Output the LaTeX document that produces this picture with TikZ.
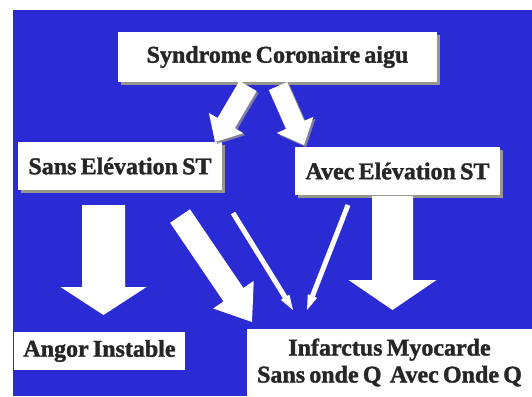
\documentclass[tikz,border=0pt]{standalone}
\usepackage{fontspec}
\setmainfont{Liberation Serif}
\newfontfamily\tnrfont{Liberation Serif}[BoldFeatures={FakeBold=1.5},WordSpace=0.7]
\usetikzlibrary{calc,shadows}
\definecolor{bgblue}{RGB}{43,43,214}
\definecolor{shadowgray}{RGB}{150,150,140}
\newcommand\blkarr[6][]{%
  \coordinate (ba-h) at ($(#3)!#6!(#2)$);
  \fill[white,#1] ($(#2)!#4!90:(#3)$) -- ($(ba-h)!#4!90:(#3)$) -- ($(ba-h)!#5!90:(#3)$) -- (#3)
    -- ($(ba-h)!#5!-90:(#3)$) -- ($(ba-h)!#4!-90:(#3)$) -- ($(#2)!#4!-90:(#3)$) -- cycle;
}
\tikzset{
  box/.style={fill=white, inner sep=0pt, font=\tnrfont\bfseries\fontsize{24}{27}\selectfont, text=black!85},
  shadowed/.style={drop shadow={shadow xshift=3pt, shadow yshift=-3pt, fill=shadowgray, opacity=1}},
  arrshadow/.style={drop shadow={shadow xshift=2pt, shadow yshift=-2pt, fill=shadowgray, opacity=.8}},
}
\begin{document}
\begin{tikzpicture}[x=1pt,y=-1pt]
\useasboundingbox (0,0) rectangle (532,396);
\fill[white] (0,0) rectangle (532,396);
\fill[bgblue] (13,10) rectangle (532,396);
% boxes
\node[box,shadowed,minimum width=319pt,minimum height=50pt] (sca) at (277.5,57) {Syndrome Coronaire aigu};
\node[box,shadowed,minimum width=204pt,minimum height=48pt] (sans) at (120,166) {Sans Elévation ST};
\node[box,shadowed,minimum width=205pt,minimum height=48pt] (avec) at (397.5,171) {Avec Elévation ST};
\node[box,minimum width=171pt,minimum height=38pt] (angor) at (99.5,351) {Angor Instable};
\node[box,minimum width=285pt,minimum height=67pt,align=center] (idm) at (389.5,362.5) {Infarctus Myocarde\\Sans onde Q\ \ Avec Onde Q};
% arrow end points
\coordinate (a1s) at (248,86);
\coordinate (a1e) at (215,142);
\coordinate (a2s) at (278,86);
\coordinate (a2e) at (304,145);
\coordinate (b1s) at (103.5,205);
\coordinate (b1e) at (103.5,315);
\coordinate (b2s) at (180,216);
\coordinate (b2e) at (252,322);
\coordinate (b3s) at (233,213);
\coordinate (b3e) at (293,310);
\coordinate (b4s) at (348,205);
\coordinate (b4e) at (307,310);
\coordinate (b5s) at (392.5,196);
\coordinate (b5e) at (392.5,310);
% arrows
\blkarr[arrshadow]{a1s}{a1e}{10pt}{20pt}{22pt}
\blkarr[arrshadow]{a2s}{a2e}{10pt}{20pt}{22pt}
\blkarr{b1s}{b1e}{21.5pt}{43pt}{28pt}
\blkarr{b2s}{b2e}{12pt}{24.5pt}{33pt}
\blkarr{b3s}{b3e}{2.5pt}{5pt}{15pt}
\blkarr{b4s}{b4e}{2.5pt}{5pt}{15pt}
\blkarr{b5s}{b5e}{20.5pt}{44pt}{30pt}
\end{tikzpicture}
\end{document}
